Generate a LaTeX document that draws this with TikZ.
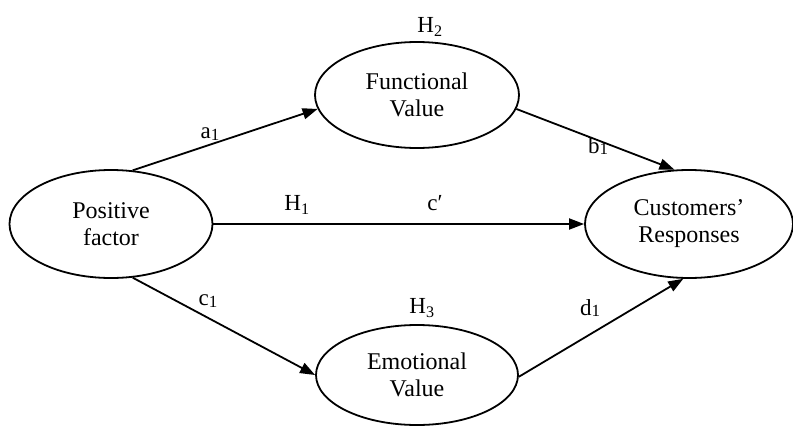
\documentclass[tikz,border=0pt]{standalone}
\usepackage{fontspec}
\setmainfont{Liberation Serif}
\usetikzlibrary{shapes.geometric,arrows.meta}
\newcommand{\lsub}[1]{\raisebox{-1.5pt}{\fontsize{17}{17}\selectfont #1}}
\begin{document}
\begin{tikzpicture}[x=1pt,y=-1pt,
  var/.style={draw,line width=1.8pt,ellipse,inner sep=0pt,align=center,
    font=\fontsize{24}{27}\selectfont},
  lab/.style={font=\fontsize{23}{26}\selectfont,inner sep=0pt},
  conn/.style={line width=1.8pt,-{Triangle[length=15pt,width=11pt]}}]
\useasboundingbox[fill=white] (0,0) rectangle (793,426);
\node[var,minimum width=203pt,minimum height=108pt] (pos) at (111,224) {Positive\\factor};
\node[var,minimum width=204pt,minimum height=106pt] (fun) at (417,95) {Functional\\Value};
\node[var,minimum width=202pt,minimum height=100pt] (emo) at (417,375) {Emotional\\Value};
\node[var,minimum width=208pt,minimum height=108pt] (cus) at (689,224) {Customers’\\Responses};
\draw[conn] (pos.68) -- (fun.188);
\draw[conn] (fun.-8) -- (cus.105);
\draw[conn] (pos.0) -- (cus.180);
\draw[conn] (pos.-68) -- (emo.180);
\draw[conn] (emo.-1) -- (cus.264);
\node[lab] (la) at (210,134) {a\lsub{1}};
\node[lab] (lb) at (598,146) {b\lsub{1}};
\node[lab] (lc) at (208,301) {c\lsub{1}};
\node[lab] (ld) at (590,308) {d\lsub{1}};
\node[lab] (lh1) at (297,205) {H\textsubscript{1}};
\node[lab] (lcp) at (435,203) {c′};
\node[lab] (lh2) at (430,27) {H\textsubscript{2}};
\node[lab] (lh3) at (422,308) {H\textsubscript{3}};
\end{tikzpicture}
\end{document}
